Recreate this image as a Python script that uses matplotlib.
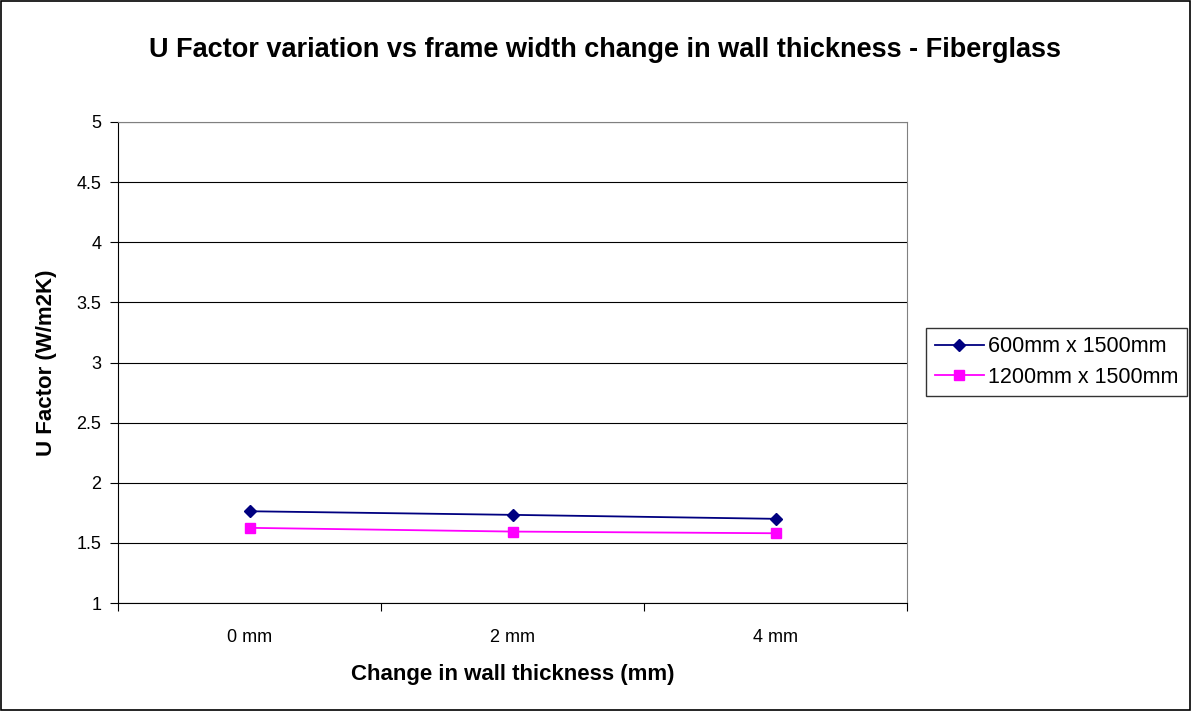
import matplotlib
matplotlib.use("Agg")
from matplotlib import pyplot as plt
from matplotlib.patches import Rectangle

plt.rcParams['font.family'] = ['Liberation Sans', 'DejaVu Sans']

categories = ['0 mm', '2 mm', '4 mm']
small_window = [1.763, 1.733, 1.70]   # 600mm x 1500mm
large_window = [1.625, 1.594, 1.58]   # 1200mm x 1500mm
y_ticks = [1, 1.5, 2, 2.5, 3, 3.5, 4, 4.5, 5]
y_labels = ['1', '1.5', '2', '2.5', '3', '3.5', '4', '4.5', '5']

fig = plt.figure(figsize=(11.91, 7.11), dpi=100)
ax = fig.add_axes([118 / 1191, 1 - 603 / 711, (907 - 118) / 1191, (603 - 122) / 711])

x = list(range(len(categories)))
ax.plot(x, small_window, color='#000080', marker='D', markersize=6.5, lw=1.3,
        label='600mm x 1500mm')
ax.plot(x, large_window, color='#FF00FF', marker='s', markersize=7, lw=1.3,
        label='1200mm x 1500mm')

ax.set_xlim(-0.5, 2.5)
ax.set_ylim(1, 5)
ax.set_yticks(y_ticks)
ax.set_yticklabels(y_labels, fontsize=13)
ax.yaxis.grid(True, color='black', lw=0.8)
ax.set_axisbelow(True)

# category axis: ticks between categories, labels centred
ax.set_xticks([-0.5, 0.5, 1.5, 2.5])
ax.set_xticklabels([])
ax.set_xticks(x, minor=True)
ax.set_xticklabels(categories, minor=True, fontsize=13)
ax.tick_params(axis='x', which='minor', length=0, pad=19)
ax.tick_params(axis='x', which='major', length=6, direction='out', color='black')
ax.tick_params(axis='y', length=6, direction='out', pad=6)

for side in ['top', 'right']:
    ax.spines[side].set_color('#808080')
for side in ['left', 'bottom']:
    ax.spines[side].set_color('black')

ax.set_xlabel('Change in wall thickness (mm)', fontsize=16, fontweight='bold', labelpad=13)
ax.set_ylabel('U Factor (W/m2K)', fontsize=16, fontweight='bold', labelpad=14)
fig.text(605 / 1191, 1 - 50 / 711,
         'U Factor variation vs frame width change in wall thickness - Fiberglass',
         ha='center', va='center', fontsize=19.5, fontweight='bold')

leg = ax.legend(loc='center left', bbox_to_anchor=(926 / 1191, 1 - 362 / 711),
                bbox_transform=fig.transFigure, fontsize=15.5, frameon=True,
                fancybox=False, edgecolor='black', borderpad=0.4, borderaxespad=0,
                handlelength=2.3, handletextpad=0.2, labelspacing=0.45)
leg.get_frame().set_linewidth(1.0)

fig.patches.append(Rectangle((0.001, 0.001), 0.998, 0.998, transform=fig.transFigure,
                             fill=False, edgecolor='black', lw=1.2))

fig.savefig('out.png', dpi=100)
